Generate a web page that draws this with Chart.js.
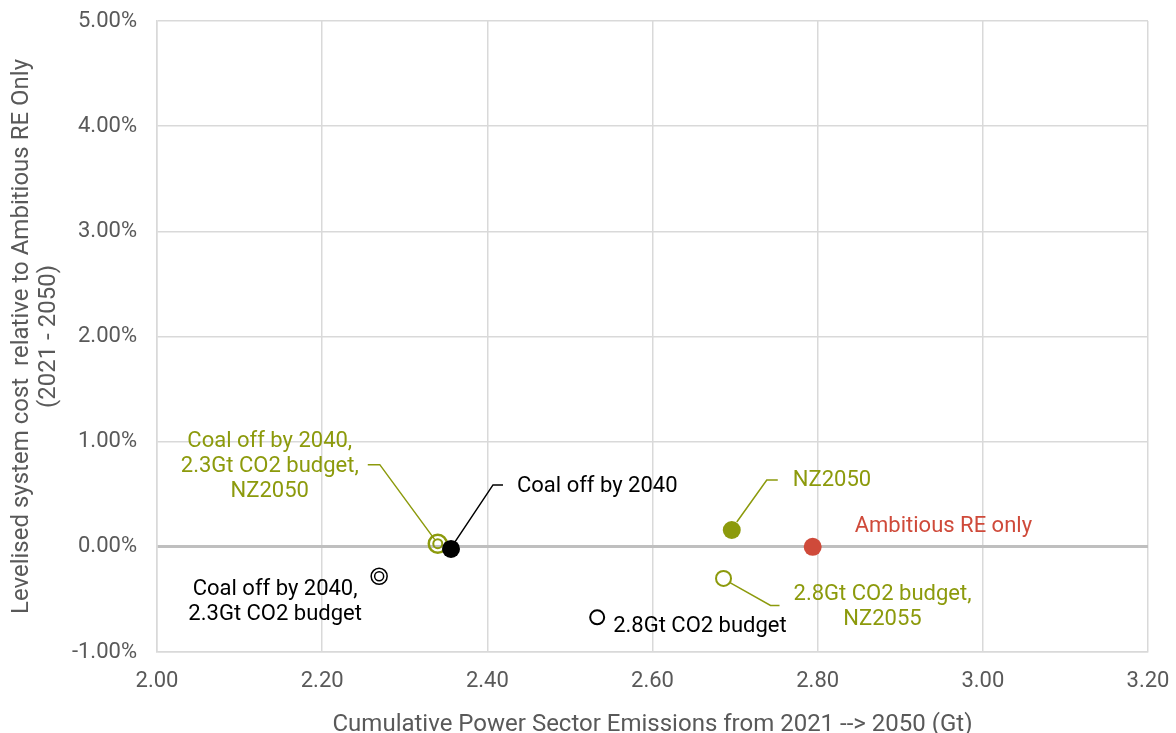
<!DOCTYPE html>
<html>
<head>
<meta charset="utf-8">
<script src="https://cdn.jsdelivr.net/npm/chart.js@4"></script>
<style>
  html, body { margin: 0; padding: 0; background: #fff; }
  #wrap { width: 1176px; height: 733px; }
</style>
</head>
<body>
<div id="wrap"><canvas id="scatter"></canvas></div>
<script>
// scenario values
const scenarios = [
    "Ambitious RE only",
    "NZ2050",
    "Coal off by 2040",
    "Coal off by 2040, 2.3Gt CO2 budget, NZ2050",
    "Coal off by 2040, 2.3Gt CO2 budget",
    "2.8Gt CO2 budget",
    "2.8Gt CO2 budget, NZ2055"
];
const emissions = [2.794, 2.696, 2.356, 2.340, 2.269, 2.533, 2.686];   // Gt
const costDelta = [0.00, 0.16, -0.02, 0.03, -0.28, -0.67, -0.30];      // %
const xTicks = [2.0, 2.2, 2.4, 2.6, 2.8, 3.0, 3.2];
const yTicks = [-1, 0, 1, 2, 3, 4, 5];

const GREEN = "#8c9a0c";
const RED = "#cf4a3a";
const GREY_TXT = "#595959";
const FONT = "Roboto, 'Liberation Sans', Arial, sans-serif";

const pt = i => [{ x: emissions[i], y: costDelta[i] }];

// label text + leader lines, offsets in px from the point
const notes = [
    { i: 0, lines: ["Ambitious RE only"], color: RED, align: "left", dx: 42, dy: -20 },
    { i: 1, lines: ["NZ2050"], color: GREEN, align: "left", dx: 61, dy: -50,
      leader: [[5, -8], [35, -50], [46, -50]] },
    { i: 2, lines: ["Coal off by 2040"], color: "#000", align: "left", dx: 66, dy: -62,
      leader: [[4, -7], [42, -64], [52, -64]] },
    { i: 3, lines: ["Coal off by 2040,", "2.3Gt CO2 budget,", "NZ2050"], color: GREEN, align: "center", dx: -168, dy: -102,
      leader: [[-70, -79], [-58, -79], [-3, -4]] },
    { i: 4, lines: ["Coal off by 2040,", "2.3Gt CO2 budget"], color: "#000", align: "center", dx: -104, dy: 13 },
    { i: 5, lines: ["2.8Gt CO2 budget"], color: "#000", align: "left", dx: 16, dy: 9 },
    { i: 6, lines: ["2.8Gt CO2 budget,", "NZ2055"], color: GREEN, align: "center", dx: 159, dy: 16,
      leader: [[6, 4], [47, 27], [56, 27]] }
];

const notePlugin = {
    id: "notes",
    beforeDatasetsDraw(chart) {
        const ctx = chart.ctx, xs = chart.scales.x, ys = chart.scales.y;
        ctx.save();
        notes.forEach(n => {
            if (!n.leader) return;
            const px = xs.getPixelForValue(emissions[n.i]);
            const py = ys.getPixelForValue(costDelta[n.i]);
            ctx.strokeStyle = n.color;
            ctx.lineWidth = 1.5;
            ctx.beginPath();
            n.leader.forEach((p, k) => {
                if (k === 0) ctx.moveTo(px + p[0], py + p[1]);
                else ctx.lineTo(px + p[0], py + p[1]);
            });
            ctx.stroke();
        });
        ctx.restore();
    },
    afterDatasetsDraw(chart) {
        const ctx = chart.ctx, xs = chart.scales.x, ys = chart.scales.y;
        ctx.save();
        ctx.font = "22px " + FONT;
        ctx.textBaseline = "middle";
        notes.forEach(n => {
            const px = xs.getPixelForValue(emissions[n.i]);
            const py = ys.getPixelForValue(costDelta[n.i]);
            ctx.fillStyle = n.color;
            ctx.textAlign = n.align;
            n.lines.forEach((t, k) => {
                ctx.fillText(t, px + n.dx, py + n.dy + k * 25);
            });
        });
        ctx.restore();
    }
};

new Chart(document.getElementById("scatter"), {
    type: "scatter",
    data: {
        datasets: [
            { label: scenarios[0], data: pt(0), pointRadius: 9, backgroundColor: RED, borderColor: RED, borderWidth: 0 },
            { label: scenarios[1], data: pt(1), pointRadius: 9, backgroundColor: GREEN, borderColor: GREEN, borderWidth: 0 },
            { label: scenarios[2], data: pt(2), pointRadius: 9, backgroundColor: "#000", borderColor: "#000", borderWidth: 0 },
            // double rings: outer + inner circle on the same point
            { label: scenarios[3], data: pt(3), pointRadius: 9, backgroundColor: "rgba(0,0,0,0)", borderColor: GREEN, borderWidth: 2.5 },
            { label: scenarios[3] + " (inner)", data: pt(3), pointRadius: 4.5, backgroundColor: "rgba(0,0,0,0)", borderColor: GREEN, borderWidth: 2 },
            { label: scenarios[4], data: pt(4), pointRadius: 8, backgroundColor: "rgba(0,0,0,0)", borderColor: "#000", borderWidth: 1.5 },
            { label: scenarios[4] + " (inner)", data: pt(4), pointRadius: 4.5, backgroundColor: "rgba(0,0,0,0)", borderColor: "#000", borderWidth: 1.5 },
            { label: scenarios[5], data: pt(5), pointRadius: 7, backgroundColor: "#fff", borderColor: "#000", borderWidth: 2 },
            { label: scenarios[6], data: pt(6), pointRadius: 7.5, backgroundColor: "#fff", borderColor: GREEN, borderWidth: 2 }
        ]
    },
    options: {
        responsive: true,
        maintainAspectRatio: false,
        animation: false,
        layout: { padding: { left: 0, top: 21, right: 28, bottom: 0 } },
        plugins: {
            legend: { display: false },
            tooltip: { enabled: false }
        },
        scales: {
            x: {
                type: "linear",
                min: 2.0,
                max: 3.2,
                afterBuildTicks: s => { s.ticks = xTicks.map(v => ({ value: v })); },
                afterFit: s => { s.height = 81; s.paddingLeft = 0; s.paddingRight = 0; },
                grid: { color: "#d9d9d9", lineWidth: 1.5, drawTicks: false },
                border: { color: "#d9d9d9", width: 1.5 },
                ticks: {
                    padding: 16,
                    color: GREY_TXT,
                    font: { family: FONT, size: 22 },
                    callback: v => v.toFixed(2)
                },
                title: {
                    display: true,
                    text: "Cumulative Power Sector Emissions from 2021 --> 2050 (Gt)",
                    color: GREY_TXT,
                    font: { family: FONT, size: 24 },
                    padding: { top: 14, bottom: -6 }
                }
            },
            y: {
                type: "linear",
                min: -1,
                max: 5,
                afterBuildTicks: s => { s.ticks = yTicks.map(v => ({ value: v })); },
                afterFit: s => { s.width = 157; s.paddingTop = 0; s.paddingBottom = 0; },
                grid: {
                    color: c => c.tick && c.tick.value === 0 ? "#bfbfbf" : "#d9d9d9",
                    lineWidth: c => c.tick && c.tick.value === 0 ? 3 : 1.5,
                    drawTicks: false
                },
                border: { color: "#d9d9d9", width: 1.5 },
                ticks: {
                    padding: 20,
                    color: GREY_TXT,
                    font: { family: FONT, size: 22 },
                    callback: v => v.toFixed(2) + "%"
                },
                title: {
                    display: true,
                    text: ["Levelised system cost  relative to Ambitious RE Only", "(2021 - 2050)"],
                    color: GREY_TXT,
                    font: { family: FONT, size: 24, lineHeight: 1.1 },
                    padding: { top: 9, bottom: 0 }
                }
            }
        }
    },
    plugins: [notePlugin]
});
</script>
</body>
</html>
